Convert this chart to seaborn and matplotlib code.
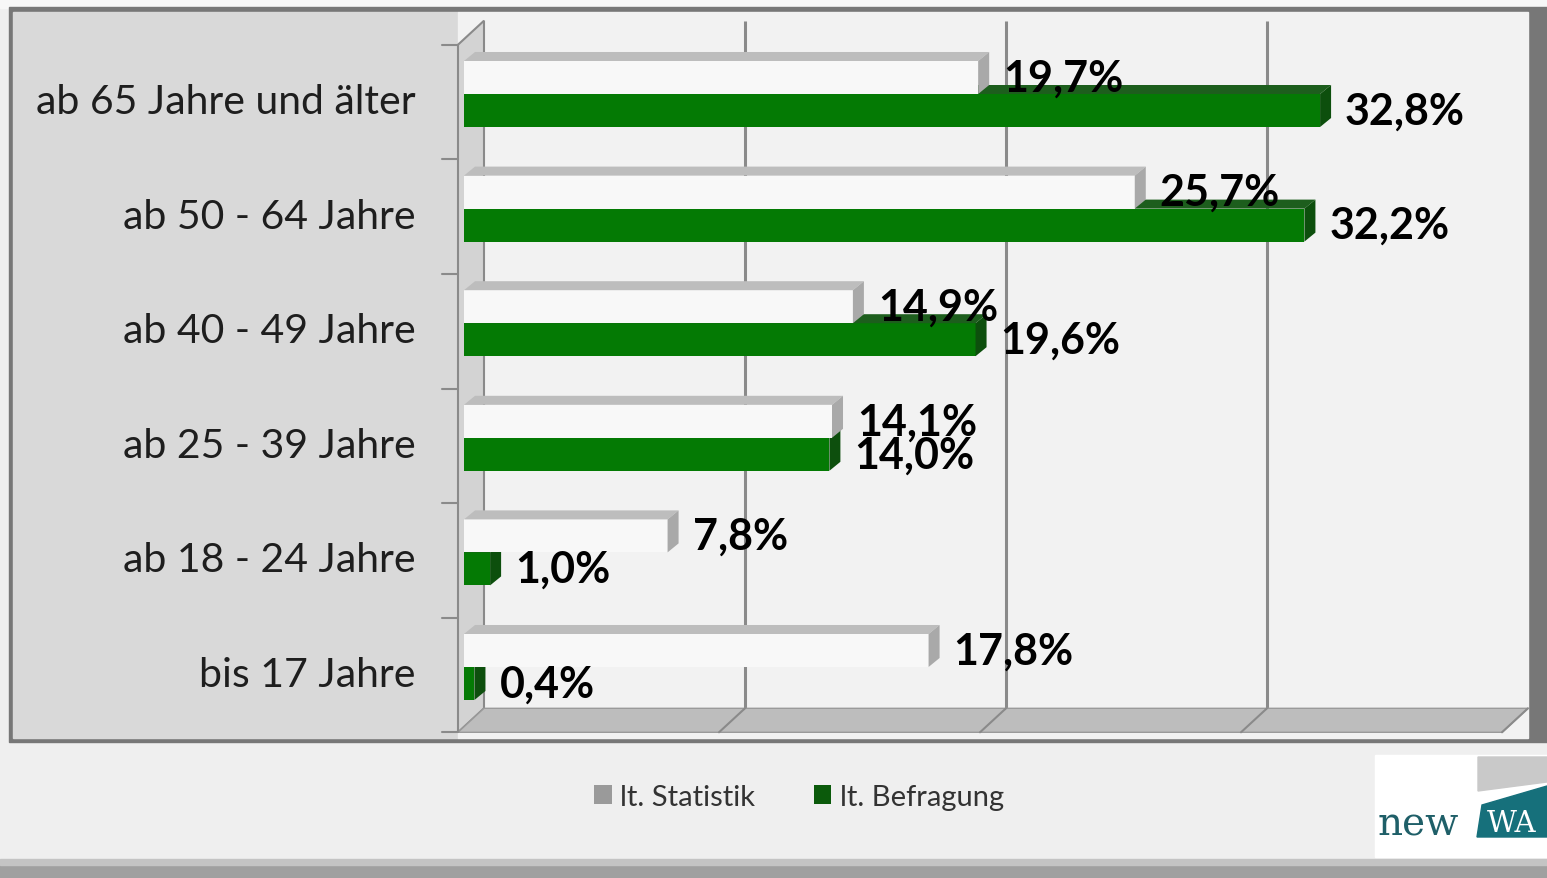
import numpy as np
import pandas as pd
import matplotlib
matplotlib.use("Agg")
import matplotlib.pyplot as plt
import seaborn as sns
from matplotlib.patches import Polygon, Rectangle, Patch
from matplotlib.transforms import ScaledTranslation

# ---------------- data ----------------
categories = ["ab 65 Jahre und älter", "ab 50 - 64 Jahre", "ab 40 - 49 Jahre",
              "ab 25 - 39 Jahre", "ab 18 - 24 Jahre", "bis 17 Jahre"]
series_names = ["lt. Statistik", "lt. Befragung"]
statistik = [19.7, 25.7, 14.9, 14.1, 7.8, 17.8]
befragung = [32.8, 32.2, 19.6, 14.0, 1.0, 0.4]

# ---------------- styling ----------------
W, H, DPI = 1547, 879, 100
WHITE_FACE = "#f8f8f8"
WHITE_TOP = "#bdbdbd"
WHITE_SIDE = "#a9a9a9"
GREEN_FACE = "#047a04"
GREEN_TOP = "#1d5e1d"
GREEN_SIDE = "#0d4f0d"
GRID = "#8a8a8a"

sns.set_theme(style="white")
plt.rcParams['font.family'] = ['Lato', 'DejaVu Sans']

fig = plt.figure(figsize=(W / DPI, H / DPI), dpi=DPI)
fig.patch.set_facecolor('#efefef')

# background frame (pixel coordinates)
bg = fig.add_axes([0, 0, 1, 1], zorder=-10)
bg.set_xlim(0, W); bg.set_ylim(H, 0); bg.axis('off')
bg.add_patch(Rectangle((0, 0), W, 9, color='#f7f7f7'))
bg.add_patch(Rectangle((9, 8), W - 9, 735, color='#777777'))
bg.add_patch(Rectangle((13, 13), 445, 726, color='#d9d9d9'))
bg.add_patch(Rectangle((458, 13), 1070, 726, color='#f2f2f2'))
bg.add_patch(Rectangle((0, 866), W, 13, color='#a0a0a0'))
bg.add_patch(Rectangle((0, 860), W, 6, color='#c4c4c4'))
# logo
bg.add_patch(Rectangle((1375, 756), 172, 102, color='white'))
bg.add_patch(Polygon([(1478, 758), (1547, 758), (1547, 783), (1478, 792)], color='#c9c9c9'))
bg.add_patch(Polygon([(1477, 838), (1547, 838), (1547, 787), (1482, 806)], color='#16707b'))
bg.text(1378, 836, "new", family='DejaVu Serif', fontsize=28, color='#1f5f68', va='baseline')
bg.text(1487, 832, "WA", family='DejaVu Serif', fontsize=21, color='white', va='baseline')

# main axes: bar front plane
AX_L, AX_T, AX_W, AX_H = 464, 37.7, 1044, 687.6
ax = fig.add_axes([AX_L / W, 1 - (AX_T + AX_H) / H, AX_W / W, AX_H / H])
ax.patch.set_visible(False)

df = pd.DataFrame({
    "Altersgruppe": categories * 2,
    "Quelle": [series_names[0]] * len(categories) + [series_names[1]] * len(categories),
    "Anteil": statistik + befragung,
})
sns.barplot(data=df, y="Altersgruppe", x="Anteil", hue="Quelle", orient="h",
            palette=[WHITE_FACE, GREEN_FACE], saturation=1, width=0.576,
            legend=False, ax=ax, linewidth=0, edgecolor='none')
ax.set_xlim(0, 40)
ax.set_ylim(5.5, -0.5)

sx = AX_W / 40.0   # px per percent
sy = AX_H / 6.0    # px per row
bdx, bdy = 11 / sx, 9 / sy          # bar depth
gdx, gdy = 20 / sx, 16 / sy         # back wall offset
fdx, fdy = -6 / sx, 8 / sy          # front wall offset

# back gridlines
for v in [10, 20, 30]:
    ax.plot([v + gdx, v + gdx], [-0.5 - gdy, 5.5 - gdy], color=GRID, lw=2.2,
            zorder=1, clip_on=False, solid_capstyle='butt')
# floor
ax.add_patch(Polygon([(fdx, 5.5 + fdy), (40 + fdx, 5.5 + fdy), (40 + gdx, 5.5 - gdy), (gdx, 5.5 - gdy)],
                     closed=True, facecolor='#bdbdbd', edgecolor='#9a9a9a', lw=1, zorder=1.2, clip_on=False))
for v in [10, 20, 30, 40]:
    ax.plot([v + fdx, v + gdx], [5.5 + fdy, 5.5 - gdy], color=GRID, lw=1.5, zorder=1.3, clip_on=False)
# left wall
ax.add_patch(Polygon([(fdx, 5.5 + fdy), (fdx, -0.5 + fdy), (gdx, -0.5 - gdy), (gdx, 5.5 - gdy)],
                     closed=True, facecolor='#d3d3d3', edgecolor=GRID, lw=1.5, zorder=1.1, clip_on=False))
for k in range(7):
    yk = -0.5 + k + fdy
    ax.plot([fdx - 16 / sx, fdx], [yk, yk], color=GRID, lw=1.5, zorder=1.3, clip_on=False)

# 3D faces for bars
styles = [(WHITE_TOP, WHITE_SIDE, 3), (GREEN_TOP, GREEN_SIDE, 2)]
for cont, (topc, sidec, z) in zip(ax.containers, styles):
    for bar in cont:
        x0, y0, w, h = bar.get_x(), bar.get_y(), bar.get_width(), bar.get_height()
        bar.set_zorder(z)
        ax.add_patch(Polygon([(x0, y0), (x0 + w, y0), (x0 + w + bdx, y0 - bdy), (x0 + bdx, y0 - bdy)],
                             closed=True, facecolor=topc, edgecolor='none', zorder=z, clip_on=False))
        ax.add_patch(Polygon([(x0 + w, y0), (x0 + w, y0 + h), (x0 + w + bdx, y0 + h - bdy), (x0 + w + bdx, y0 - bdy)],
                             closed=True, facecolor=sidec, edgecolor='none', zorder=z, clip_on=False))

# value labels
for cont, vals in zip(ax.containers, [statistik, befragung]):
    texts = ax.bar_label(cont, labels=[f"{v:.1f}%".replace('.', ',') for v in vals],
                         padding=18, fontsize=31, fontweight='bold', color='black')
    for t in texts:
        t.set_zorder(6)

# axes cosmetics
ax.set_xticks([])
ax.set_xlabel("")
ax.set_ylabel("")
for s in ax.spines.values():
    s.set_visible(False)
ax.tick_params(axis='y', length=0, pad=35, labelsize=29.5, labelcolor='#1e1e1e')
for lab in ax.get_yticklabels():
    lab.set_transform(lab.get_transform() + ScaledTranslation(0, -0.04, fig.dpi_scale_trans))

# legend
handles = [Patch(facecolor='#9a9a9a', edgecolor='none'), Patch(facecolor='#0b5a0b', edgecolor='none')]
leg = fig.legend(handles=handles, labels=series_names, loc='center',
                 bbox_to_anchor=(799 / W, 1 - 798 / H), ncol=2, frameon=False,
                 fontsize=21, handlelength=0.6, handleheight=0.6, handletextpad=0.3,
                 columnspacing=2.0, labelcolor='#333333')

fig.savefig("out.png", dpi=DPI, facecolor=fig.get_facecolor())
